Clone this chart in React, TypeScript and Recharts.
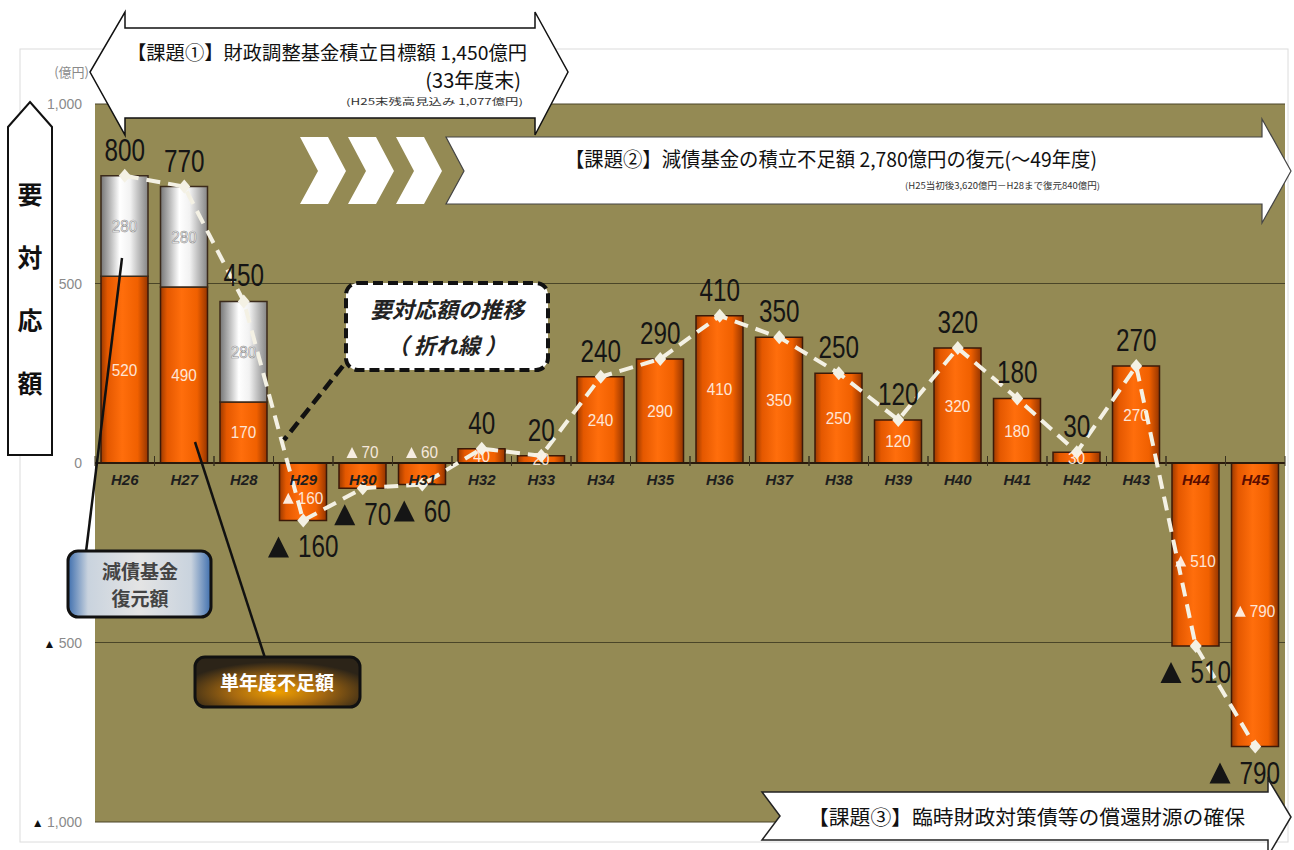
import React from 'react';
import { ComposedChart, Bar, Line, XAxis, YAxis, CartesianGrid, ReferenceLine, LabelList } from 'recharts';

const categories = ['H26', 'H27', 'H28', 'H29', 'H30', 'H31', 'H32', 'H33', 'H34', 'H35', 'H36', 'H37', 'H38', 'H39', 'H40', 'H41', 'H42', 'H43', 'H44', 'H45'];
const shortfall = [520, 490, 170, -160, -70, -60, 40, 20, 240, 290, 410, 350, 250, 120, 320, 180, 30, 270, -510, -790];
const restore: (number | null)[] = [280, 280, 280, null, null, null, null, null, null, null, null, null, null, null, null, null, null, null, null, null];
const totals = [800, 770, 450, -160, -70, -60, 40, 20, 240, 290, 410, 350, 250, 120, 320, 180, 30, 270, -510, -790];
const yTicks = [1000, 500, 0, -500, -1000];

const data = categories.map((cat, i) => ({ cat, shortfall: shortfall[i], restore: restore[i], total: totals[i] }));

const W = 1294;
const H = 850;
const M = { top: 104, right: 9, bottom: 28, left: 0 };
const YW = 95;
const BAND = (W - M.left - M.right - YW) / categories.length;
const PLOT_RIGHT = W - M.right;

const SANS = "'Liberation Sans', Arial, sans-serif";
const JP = "'Noto Sans CJK JP', 'Noto Sans CJK SC', sans-serif";

const fmt = (v: number) => Math.abs(v).toLocaleString('en-US');

const getBox = (p: any) => {
  const vb = p.viewBox || {};
  const x = Number(p.x ?? vb.x);
  const y = Number(p.y ?? vb.y);
  const w = Number(p.width ?? vb.width ?? 0);
  const h = Number(p.height ?? vb.height ?? 0);
  return { x, y, w, h };
};

const YTick = (p: any) => {
  const v = Number(p.payload?.value);
  return (
    <text x={p.x} y={p.y} dy={5} textAnchor="end" fontSize={14} fontFamily={SANS} fill="#8a8a8a">
      {v < 0 ? <tspan fill="#111" fontSize={12}>▲ </tspan> : null}
      {fmt(v)}
    </text>
  );
};

const NarrowNum = ({ x, y, s, size, digitW, fill, anchor = 'middle', extra }: any) => (
  <text
    x={x}
    y={y}
    textAnchor={anchor}
    fontSize={size}
    fontFamily={SANS}
    fill={fill}
    textLength={digitW * s.length}
    lengthAdjust="spacingAndGlyphs"
    {...extra}
  >
    {s}
  </text>
);

const InsideLabel = (p: any) => {
  const { x, y, w, h } = getBox(p);
  const v = Number(p.value);
  if (!isFinite(v) || v === 0) return null;
  const top = Math.min(y, y + h);
  const hh = Math.abs(h);
  const cx = x + w / 2;
  let ty = top + hh / 2 + 6;
  if (v < 0) ty = top + hh / 2 + 12;
  if (v < 0 && hh < 35) ty = top - 5;
  const s = fmt(v);
  if (v < 0) {
    const tw = 8.5 * s.length;
    const total = 11 + 4 + tw;
    const left = cx - total / 2;
    return (
      <g opacity={0.92}>
        <path d={`M${left},${ty} L${left + 11},${ty} L${left + 5.5},${ty - 11} Z`} fill="#FFF6EE" />
        <NarrowNum x={left + 15} y={ty} s={s} size={16} digitW={8.5} fill="#FFF1E6" anchor="start" />
      </g>
    );
  }
  return <NarrowNum x={cx} y={ty} s={s} size={16} digitW={8.5} fill="#FFF1E6" extra={{ opacity: 0.92 }} />;
};

const RestoreLabel = (p: any) => {
  const { x, y, w, h } = getBox(p);
  const v = Number(p.value);
  if (!isFinite(v) || v === 0) return null;
  const top = Math.min(y, y + h);
  const hh = Math.abs(h);
  return (
    <NarrowNum
      x={x + w / 2}
      y={top + hh / 2 + 6}
      s={fmt(v)}
      size={16}
      digitW={8.5}
      fill="#ffffff"
      extra={{ stroke: '#8c8c8c', strokeWidth: 0.6 }}
    />
  );
};

const TotalLabel = (p: any) => {
  const { x, y } = getBox(p);
  const v = Number(p.value);
  if (!isFinite(v)) return null;
  const s = fmt(v);
  const DW = 13.5;
  if (v >= 0) {
    return <NarrowNum x={x} y={y - 15} s={s} size={31} digitW={DW} fill="#151515" />;
  }
  const by = y + 37;
  const tri = 21;
  const gap = 9;
  const total = tri + gap + DW * s.length;
  const left = Math.min(x - total / 2, PLOT_RIGHT - 5 - total);
  return (
    <g>
      <path d={`M${left},${by} L${left + tri},${by} L${left + tri / 2},${by - 21} Z`} fill="#151515" />
      <NarrowNum x={left + tri + gap} y={by} s={s} size={31} digitW={DW} fill="#151515" anchor="start" />
    </g>
  );
};

const CatLabel = (p: any) => {
  const { x, y } = getBox(p);
  const idx = Number(p.index);
  const name = typeof p.value === 'string' ? p.value : categories[idx];
  const dark = totals[idx] < -300;
  return (
    <g>
      <line x1={x - BAND / 2} x2={x - BAND / 2} y1={y - 7} y2={y + 3} stroke="#3a3320" strokeWidth={1} />
      <line x1={x + BAND / 2} x2={x + BAND / 2} y1={y - 7} y2={y + 3} stroke="#3a3320" strokeWidth={1} />
      <text x={x} y={y + 22} textAnchor="middle" fontSize={15} fontWeight="bold" fontStyle="italic" fontFamily={SANS} fill={dark ? '#5a0d00' : '#1e1e1e'}>
        {name}
      </text>
    </g>
  );
};

const Diamond = (p: any) => {
  const { cx, cy } = p;
  if (cx == null || cy == null) return null;
  return <path d={`M${cx},${cy - 7} L${cx + 6},${cy} L${cx},${cy + 7} L${cx - 6},${cy} Z`} fill="#F4F1E4" />;
};

const Overlay = () => (
  <svg width={W} height={H} style={{ position: 'absolute', left: 0, top: 0, pointerEvents: 'none' }}>
    <defs>
      <linearGradient id="blueBox" x1="0" y1="0" x2="1" y2="0">
        <stop offset="0%" stopColor="#3f6fae" />
        <stop offset="14%" stopColor="#c9d3de" />
        <stop offset="50%" stopColor="#e4e4e4" />
        <stop offset="86%" stopColor="#c9d3de" />
        <stop offset="100%" stopColor="#3f6fae" />
      </linearGradient>
      <radialGradient id="orangeBox" cx="50%" cy="70%" r="60%">
        <stop offset="0%" stopColor="#f0a000" />
        <stop offset="45%" stopColor="#a86a10" />
        <stop offset="100%" stopColor="#2c2418" />
      </radialGradient>
    </defs>
    <rect x={20} y={49} width={1268} height={793} fill="none" stroke="#dcdcdc" strokeWidth={1} />
    <text x={89} y={77} textAnchor="end" fontSize={13} fontFamily={JP} fill="#8a8a8a">(億円)</text>

    <polygon points="30,102 52,127 52,455 8,455 8,127" fill="#ffffff" stroke="#111" strokeWidth={2} />
    {['要', '対', '応', '額'].map((c, i) => (
      <text key={c} x={30} y={204 + i * 63} textAnchor="middle" fontSize={25} fontWeight="bold" fontFamily={JP} fill="#111">{c}</text>
    ))}

    <polygon points="125,28 535,28 535,12 568,72 535,135 535,118 125,118 125,135 90,72 125,12" fill="#ffffff" stroke="#111" strokeWidth={1.5} />
    <text x={127} y={60} fontSize={19} fontFamily={JP} fill="#111" textLength={400} lengthAdjust="spacingAndGlyphs">【課題①】財政調整基金積立目標額 1,450億円</text>
    <text x={521} y={88} textAnchor="end" fontSize={20} fontFamily={JP} fill="#111">(33年度末)</text>
    <text x={523} y={105} textAnchor="end" fontSize={9} fontFamily={JP} fill="#333" textLength={177} lengthAdjust="spacingAndGlyphs">(H25末残高見込み 1,077億円)</text>

    {[300, 348, 396].map((x0) => (
      <polygon key={x0} points={`${x0},137 ${x0 + 28},137 ${x0 + 46},171 ${x0 + 28},204 ${x0},204 ${x0 + 18},171`} fill="#ffffff" />
    ))}
    <polygon points="446,137 1262,137 1262,119 1291,171 1262,223 1262,204 446,204 464,171" fill="#ffffff" stroke="#444" strokeWidth={1.2} />
    <text x={565} y={167} fontSize={20} fontFamily={JP} fill="#111" textLength={532} lengthAdjust="spacingAndGlyphs">【課題②】減債基金の積立不足額 2,780億円の復元(～49年度)</text>
    <text x={1100} y={189} textAnchor="end" fontSize={9} fontFamily={JP} fill="#333" textLength={195} lengthAdjust="spacingAndGlyphs">(H25当初後3,620億円－H28まで復元840億円)</text>

    <polygon points="762,792 1268,792 1268,779 1291,817 1268,856 1268,840 762,840 780,816" fill="#ffffff" stroke="#222" strokeWidth={1.5} />
    <text x={808} y={825} fontSize={20} fontFamily={JP} fill="#111" textLength={437} lengthAdjust="spacingAndGlyphs">【課題③】臨時財政対策債等の償還財源の確保</text>

    <line x1={354} y1={352} x2={284} y2={440} stroke="#111" strokeWidth={4.5} strokeDasharray="12 6" />
    <rect x={346} y={283} width={202} height={87} rx={12} fill="#ffffff" stroke="#111" strokeWidth={4} strokeDasharray="10 5" />
    <text x={447} y={318} textAnchor="middle" fontSize={22} fontWeight="bold" fontStyle="italic" fontFamily={JP} fill="#222">要対応額の推移</text>
    <text x={447} y={354} textAnchor="middle" fontSize={22} fontWeight="bold" fontStyle="italic" fontFamily={JP} fill="#222">（ 折れ線 ）</text>

    <line x1={122} y1={258} x2={86} y2={552} stroke="#111" strokeWidth={2.5} />
    <line x1={195} y1={442} x2={265} y2={658} stroke="#111" strokeWidth={2.5} />
    <rect x={68} y={551} width={143} height={66} rx={10} fill="url(#blueBox)" stroke="#111" strokeWidth={3} />
    <text x={140} y={579} textAnchor="middle" fontSize={19} fontWeight="bold" fontFamily={JP} fill="#444">減債基金</text>
    <text x={140} y={606} textAnchor="middle" fontSize={19} fontWeight="bold" fontFamily={JP} fill="#444">復元額</text>
    <rect x={195} y={657} width={165} height={50} rx={10} fill="url(#orangeBox)" stroke="#111" strokeWidth={3} />
    <text x={277} y={690} textAnchor="middle" fontSize={19} fontWeight="bold" fontFamily={JP} fill="#ffffff">単年度不足額</text>
  </svg>
);

export default function App() {
  return (
    <div style={{ position: 'absolute', left: 0, top: 0, width: W, height: H, background: '#ffffff' }}>
      <ComposedChart width={W} height={H} data={data} margin={M}>
        <defs>
          <linearGradient id="orangeBar" x1="0" y1="0" x2="1" y2="0">
            <stop offset="0%" stopColor="#9c3a00" />
            <stop offset="14%" stopColor="#e45800" />
            <stop offset="45%" stopColor="#ff6e0c" />
            <stop offset="78%" stopColor="#f06000" />
            <stop offset="100%" stopColor="#953500" />
          </linearGradient>
          <linearGradient id="grayBar" x1="0" y1="0" x2="1" y2="0">
            <stop offset="0%" stopColor="#767676" />
            <stop offset="40%" stopColor="#ffffff" />
            <stop offset="62%" stopColor="#f2f2f2" />
            <stop offset="100%" stopColor="#858585" />
          </linearGradient>
        </defs>
        <CartesianGrid vertical={false} fill="#948A54" fillOpacity={1} stroke="#4a4528" strokeWidth={1} />
        <XAxis dataKey="cat" hide />
        <YAxis
          width={YW}
          domain={[-1000, 1000]}
          ticks={yTicks}
          interval={0}
          axisLine={false}
          tickLine={false}
          tickSize={0}
          tickMargin={13}
          tick={<YTick />}
        />
        <ReferenceLine y={0} stroke="#2a1a0c" strokeWidth={2} />
        <Bar dataKey="shortfall" stackId="a" barSize={47} fill="url(#orangeBar)" stroke="#3b1a08" strokeWidth={1.5} isAnimationActive={false}>
          <LabelList dataKey="shortfall" content={<InsideLabel />} />
        </Bar>
        <Bar dataKey="restore" stackId="a" barSize={47} fill="url(#grayBar)" stroke="#3b2a1a" strokeWidth={1.5} isAnimationActive={false}>
          <LabelList dataKey="restore" content={<RestoreLabel />} />
        </Bar>
        <Line dataKey={() => 0} stroke="none" dot={false} activeDot={false} legendType="none" isAnimationActive={false}>
          <LabelList dataKey="cat" content={<CatLabel />} />
        </Line>
        <Line
          dataKey="total"
          stroke="#F4F1E4"
          strokeWidth={4}
          strokeDasharray="14 8"
          dot={<Diamond />}
          activeDot={false}
          isAnimationActive={false}
        >
          <LabelList dataKey="total" content={<TotalLabel />} />
        </Line>
      </ComposedChart>
      <Overlay />
    </div>
  );
}
